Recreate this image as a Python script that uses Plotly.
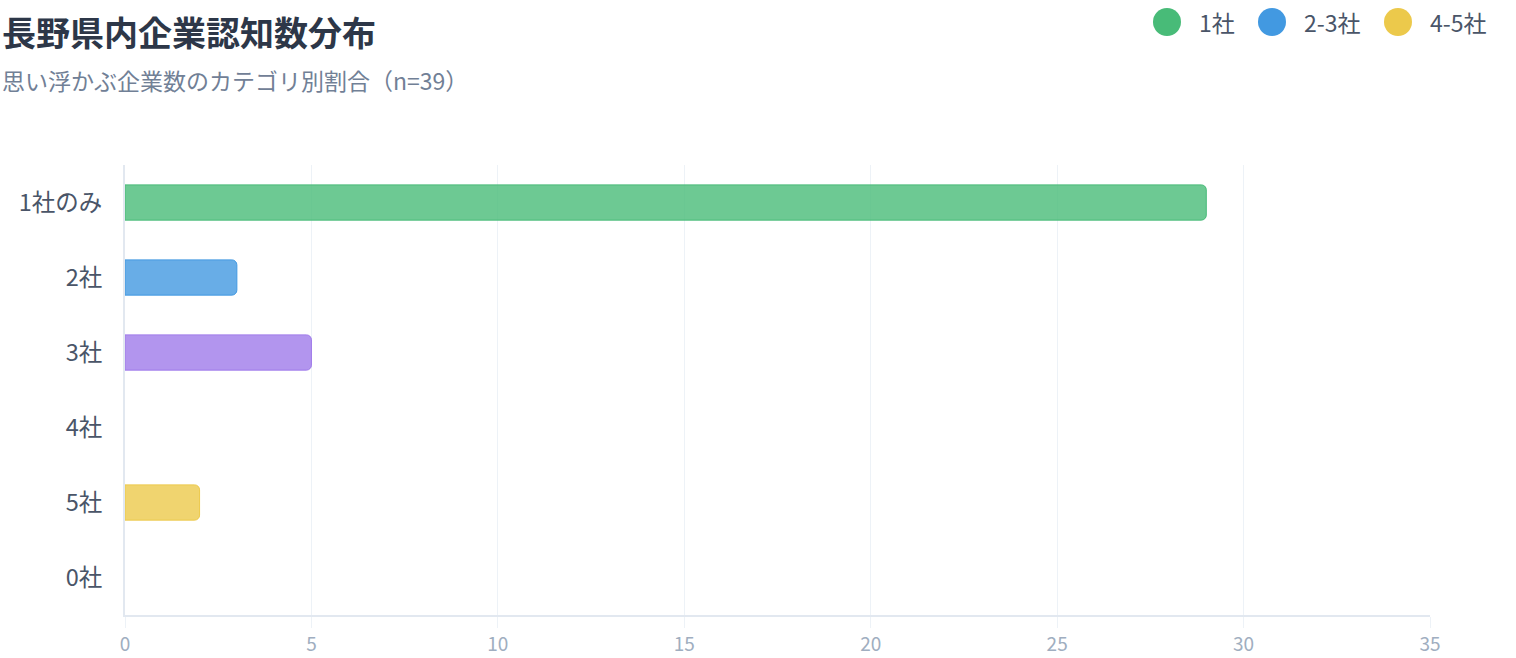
import plotly.graph_objects as go

# Data: number of companies recalled per respondent (n=39)
categories = ["1社のみ", "2社", "3社", "4社", "5社", "0社"]
counts = [29, 3, 5, 0, 2, 0]
bar_fill = ["rgba(72,187,120,0.8)", "rgba(66,153,225,0.8)", "rgba(159,122,234,0.8)",
            "rgba(236,201,75,0.8)", "rgba(236,201,75,0.8)", "rgba(160,174,192,0.8)"]
bar_edge = ["#48bb78", "#4299e1", "#9f7aea", "#ecc94b", "#ecc94b", "#a0aec0"]

legend_labels = ["1社", "2-3社", "4-5社"]
legend_colors = ["#48bb78", "#4299e1", "#ecc94b"]
legend_circle_x = [1167, 1272, 1398]
legend_text_x = [1197, 1302, 1428]

x_ticks = [0, 5, 10, 15, 20, 25, 30, 35]

W, H = 1516, 658
FONT = "Noto Sans CJK JP"

# Empty categories get no outline so nothing is drawn at zero
edge_widths = [1 if c > 0 else 0 for c in counts]

fig = go.Figure()
fig.add_trace(go.Bar(
    y=categories,
    x=counts,
    orientation="h",
    marker=dict(color=bar_fill, line=dict(color=bar_edge, width=edge_widths), cornerradius=5),
    showlegend=False,
    hoverinfo="x+y",
))

L, R, T, B = 125, 86, 165, 43
pw, ph = W - L - R, H - T - B


def px_x(v):
    return (v - L) / pw


def px_y(v):
    return 1 - (v - T) / ph


shapes = []
annotations = [
    dict(text="<b>長野県内企業認知数分布</b>", x=px_x(0), y=px_y(31), xref="paper", yref="paper",
         showarrow=False, xanchor="left", yanchor="middle",
         font=dict(family=FONT, size=34, color="#2d3748")),
    dict(text="思い浮かぶ企業数のカテゴリ別割合（n=39）", x=px_x(0), y=px_y(80), xref="paper", yref="paper",
         showarrow=False, xanchor="left", yanchor="middle",
         font=dict(family=FONT, size=23, color="#718096")),
]

for lab, col, cx, tx in zip(legend_labels, legend_colors, legend_circle_x, legend_text_x):
    r = 14
    shapes.append(dict(type="circle", xref="paper", yref="paper",
                       x0=px_x(cx - r), x1=px_x(cx + r), y0=px_y(22 + r), y1=px_y(22 - r),
                       fillcolor=col, line=dict(width=0)))
    annotations.append(dict(text=lab, x=px_x(tx), y=px_y(22), xref="paper", yref="paper",
                            showarrow=False, xanchor="left", yanchor="middle",
                            font=dict(family=FONT, size=23, color="#4a5568")))

fig.update_layout(
    width=W, height=H,
    margin=dict(l=L, r=R, t=T, b=B, autoexpand=False),
    paper_bgcolor="white", plot_bgcolor="white",
    font=dict(family=FONT),
    bargap=0.53,
    shapes=shapes,
    annotations=annotations,
    xaxis=dict(range=[0, 35], tickvals=x_ticks, showgrid=True, gridcolor="#edf2f7",
               gridwidth=1, zeroline=False, showline=True, linecolor="#e2e8f0", linewidth=2,
               ticks="outside", ticklen=11, tickcolor="#edf2f7", automargin=False,
               tickfont=dict(family=FONT, size=19, color="#a0aec0"), fixedrange=True),
    yaxis=dict(categoryorder="array", categoryarray=categories, autorange="reversed",
               showgrid=False, zeroline=False, showline=True, linecolor="#e2e8f0", linewidth=2,
               ticks="", ticklabelstandoff=16, automargin=False,
               tickfont=dict(family=FONT, size=23.5, color="#4a5568"), fixedrange=True),
)

fig.write_html("out.html", config={"displayModeBar": False})
